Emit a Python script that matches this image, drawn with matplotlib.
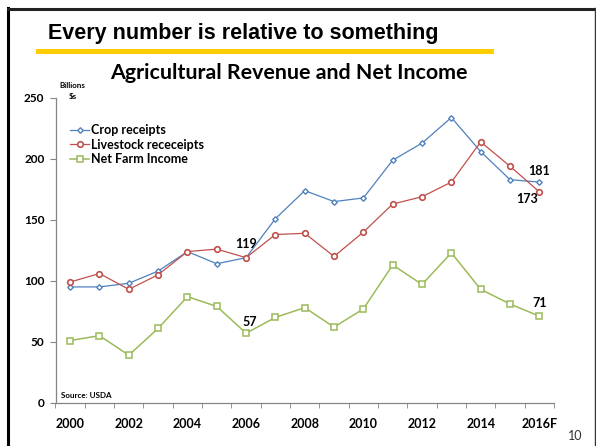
import matplotlib.pyplot as plt
from matplotlib.lines import Line2D
from matplotlib.patches import Rectangle

# --- data (billions of dollars) ---
years = ["2000", "2001", "2002", "2003", "2004", "2005", "2006", "2007", "2008",
         "2009", "2010", "2011", "2012", "2013", "2014", "2015", "2016F"]
crop = [95, 95, 98, 108, 124, 114, 119, 151, 174, 165, 168, 199, 213, 234, 206, 183, 181]
livestock = [99, 106, 93, 105, 124, 126, 119, 138, 139, 120, 140, 163, 169, 181, 214, 194, 173]
net_income = [51, 55, 39, 61, 87, 79, 57, 70, 78, 62, 77, 113, 97, 123, 93, 81, 71]

BLUE = "#4F81BD"
RED = "#C0504D"
GREEN = "#9BBB59"
AXIS_GRAY = "#868686"

W, H = 596, 446
fig = plt.figure(figsize=(W / 100, H / 100), dpi=100)


def fx(px):
    return px / W


def fy(py):
    return 1 - py / H


# slide frame: dark line top and left, thin line on the right
fig.add_artist(Line2D([fx(8), fx(8)], [0, fy(8)], transform=fig.transFigure,
                      color="black", lw=2.2))
fig.add_artist(Line2D([fx(8), 1], [fy(8.5), fy(8.5)], transform=fig.transFigure,
                      color="#222222", lw=2.2))
fig.add_artist(Line2D([fx(595), fx(595)], [0, fy(8)], transform=fig.transFigure,
                      color="#333333", lw=1.0))

# slide heading with yellow underline
fig.text(fx(48), fy(39.5), "Every number is relative to something",
         fontsize=15.5, fontweight="bold", family="Liberation Sans",
         va="baseline", ha="left")
fig.add_artist(Rectangle((fx(36), fy(53.5)), (494 - 36) / W, 4.2 / H,
                         transform=fig.transFigure, color="#FFCC00", lw=0))

# chart title
fig.text(fx(289), fy(79), "Agricultural Revenue and Net Income",
         fontsize=15.4, fontweight="bold", family="Lato", va="baseline", ha="center")

ax = fig.add_axes([fx(55.5), fy(402.7), (554 - 55.5) / W, (402.7 - 98) / H])

x = list(range(len(years)))
ax.plot(x, crop, color=BLUE, lw=0.9, marker="D", ms=2.8, mfc="white", mec=BLUE,
        mew=1.0, label="Crop receipts")
ax.plot(x, livestock, color=RED, lw=0.9, marker="o", ms=4.0, mfc="white", mec=RED,
        mew=1.2, label="Livestock receceipts")
ax.plot(x, net_income, color=GREEN, lw=1.1, marker="s", ms=3.8, mfc="white", mec=GREEN,
        mew=1.1, label="Net Farm Income")

ax.set_xlim(-0.5, len(years) - 0.5)
ax.set_ylim(0, 250)

for s in ["top", "right"]:
    ax.spines[s].set_visible(False)
for s in ["left", "bottom"]:
    ax.spines[s].set_color(AXIS_GRAY)
    ax.spines[s].set_linewidth(0.9)

ax.set_yticks([0, 50, 100, 150, 200, 250])
ax.tick_params(axis="y", direction="out", length=4, color=AXIS_GRAY, pad=4,
               labelsize=8.5)
ax.set_xticks(x[::2])
ax.set_xticklabels(years[::2])
ax.set_xticks([i - 0.5 for i in range(len(years) + 1)], minor=True)
ax.tick_params(axis="x", which="major", length=0, pad=11, labelsize=9)
ax.tick_params(axis="x", which="minor", direction="out", length=3.5, color=AXIS_GRAY)
for lbl in ax.get_xticklabels() + ax.get_yticklabels():
    lbl.set_fontweight("bold")
    lbl.set_family("Lato")

# value labels
label_font = dict(fontsize=9, fontweight="bold", family="Lato", ha="center", va="center")
ax.annotate(f"{crop[6]}", (6, crop[6]), xytext=(0, 14), textcoords="offset pixels", **label_font)
ax.annotate(f"{net_income[6]}", (6, net_income[6]), xytext=(4, 11), textcoords="offset pixels", **label_font)
ax.annotate(f"{crop[16]}", (16, crop[16]), xytext=(0, 11), textcoords="offset pixels", **label_font)
ax.annotate(f"{livestock[16]}", (16, livestock[16]), xytext=(-12, -7), textcoords="offset pixels", **label_font)
ax.annotate(f"{net_income[16]}", (16, net_income[16]), xytext=(0, 13), textcoords="offset pixels", **label_font)

ax.legend(loc="upper left", bbox_to_anchor=(0.02, 0.93), frameon=False,
          prop=dict(family="Lato", weight="bold", size=9), handlelength=1.5,
          handletextpad=0.15, labelspacing=0.2, borderaxespad=0)

# units and source notes
fig.text(fx(72), fy(85.5), "Billions", fontsize=5.8, fontweight="bold",
         family="Lato", ha="center", va="center")
fig.text(fx(73), fy(96.5), "$s", fontsize=5.8, fontweight="bold",
         family="Lato", ha="center", va="center")
fig.text(fx(61), fy(395), "Source: USDA", fontsize=5.8, fontweight="bold",
         family="Lato", ha="left", va="center")

fig.text(fx(575), fy(436), "10", fontsize=9, family="Lato",
         ha="center", va="center", color="#333333")

fig.savefig("out.png", dpi=100)
